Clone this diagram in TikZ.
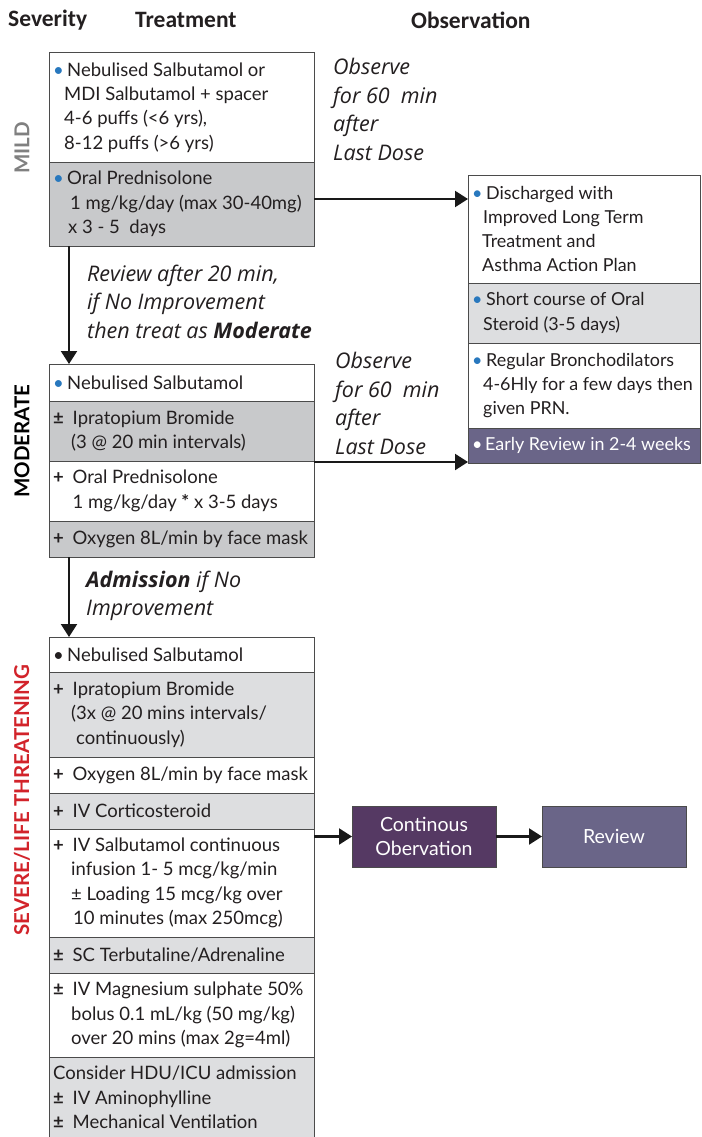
\documentclass[tikz,border=0pt]{standalone}
\usepackage{fontspec}
\setmainfont{Lato}
\newfontfamily\hfont{Carlito}
\newfontfamily\nfont{Open Sans}
\usetikzlibrary{arrows.meta,calc}
\definecolor{bblue}{RGB}{40,120,190}
\definecolor{gA}{RGB}{200,201,203}
\definecolor{gB}{RGB}{221,222,224}
\definecolor{pA}{RGB}{85,57,99}
\definecolor{pB}{RGB}{106,101,136}
\definecolor{sred}{RGB}{210,35,42}
\definecolor{txt}{RGB}{35,31,32}
\definecolor{edge}{RGB}{75,75,75}
\newcommand\bl{\makebox[14pt][l]{\textcolor{bblue}{•}}}
\newcommand\bk{\makebox[14pt][l]{•}}
\newcommand\mk[1]{\makebox[19.5pt][l]{\textbf{#1}}}
\newcommand\bodyfont{\fontsize{18.5}{24.3}\selectfont}
\newcommand\rfont{\fontsize{17.9}{24.3}\selectfont}
\tikzset{
  cell/.style={draw=edge, line width=1pt, anchor=north west, outer sep=0pt, inner sep=0pt},
  lrow/.style={cell, minimum width=265pt, minimum height=#1},
  rrow/.style={cell, minimum width=232pt, minimum height=#1},
  tx/.style={anchor=west, align=left, inner xsep=4pt, inner ysep=0pt, font=\bodyfont, text=txt},
  rtx/.style={tx, font=\rfont},
  note/.style={font=\nfont\itshape\fontsize{21.5}{28.5}\selectfont, align=left,
    anchor=west, inner sep=0pt, text=txt},
  head/.style={font=\hfont\bfseries\fontsize{23.5}{25}\selectfont, text=txt, inner sep=0pt},
  side/.style={font=\bfseries\fontsize{20.5}{22}\selectfont, rotate=90, inner sep=0pt},
  arr/.style={draw=black!90, line width=2.2pt, -{Triangle[length=13pt,width=16pt]}},
  pbox/.style={draw=edge, line width=1pt, text=white, align=center,
    font=\fontsize{19.5}{24}\selectfont,
    minimum width=144pt, minimum height=61pt, anchor=north west, outer sep=0pt}
}
\begin{document}
\begin{tikzpicture}[x=1pt,y=-1pt]
\useasboundingbox[fill=white] (0,0) rectangle (701,1137);
% headers
\node[head, anchor=west] (h1) at (8,20) {Severity};
\node[head, anchor=west] (h2) at (135,20) {Treatment};
\node[head, anchor=west] (h3) at (411,20) {Observation};
% side labels
\node[side, text=black!50] (lm) at (22,148) {MILD};
\node[side, text=black] (lmo) at (22,441) {MODERATE};
\node[side, text=sred] (ls) at (22,800) {SEVERE/LIFE THREATENING};
% mild
\node[lrow=109pt, fill=white] (m1) at (49,53) {};
\node[tx] (m1t) at (m1.west) {\bl Nebulised Salbutamol or\\
\hspace*{11pt}MDI Salbutamol + spacer\\
\hspace*{11pt}4-6 puffs (<6 yrs),\\
\hspace*{11pt}8-12 puffs (>6 yrs)};
\node[lrow=84pt, fill=gA] (m2) at (m1.south west) {};
\node[tx] (m2t) at (m2.west) {\bl Oral Prednisolone\\
\hspace*{17pt}1 mg/kg/day (max 30-40mg)\\
\hspace*{15pt}x 3 - 5\ \ days};
% observe mild
\node[note] (o1) at (333,109.5) {Observe\\ for 60\ \ min\\ after\\ Last Dose};
% right box
\node[rrow=108pt, fill=white] (r1) at (468,175) {};
\node[rtx] (r1t) at (r1.west) {\bl Discharged with\\
\hspace*{11pt}Improved Long Term\\
\hspace*{10pt}Treatment and\\
\hspace*{10pt}Asthma Action Plan};
\node[rrow=60pt, fill=gB] (r2) at (r1.south west) {};
\node[rtx] (r2t) at (r2.west) {\bl Short course of Oral\\
\hspace*{11pt}Steroid (3-5 days)};
\node[rrow=85pt, fill=white] (r3) at (r2.south west) {};
\node[rtx] (r3t) at (r3.west) {\bl Regular Bronchodilators\\
\hspace*{11pt}4-6Hly for a few days then\\
\hspace*{11pt}given PRN.};
\node[rrow=35pt, fill=pB] (r4) at (r3.south west) {};
\node[rtx, text=white] (r4t) at (r4.west) {\makebox[13pt][l]{•}Early Review in 2-4 weeks};
% review note
\node[note] (n1) at (87,301.5) {Review after 20 min,\\ if No Improvement\\ then treat as \textbf{Moderate}};
% moderate
\node[lrow=37pt, fill=white] (d1) at (49,364) {};
\node[tx] (d1t) at (d1.west) {\bl Nebulised Salbutamol};
\node[lrow=60pt, fill=gA] (d2) at (d1.south west) {};
\node[tx] (d2t) at (d2.west) {\mk{±}Ipratopium Bromide\\
\hspace*{18pt}(3 @ 20 min intervals)};
\node[lrow=60pt, fill=white] (d3) at (d2.south west) {};
\node[tx] (d3t) at (d3.west) {\mk{+}Oral Prednisolone\\
\hspace*{19.5pt}1 mg/kg/day \textbf{*} x 3-5 days};
\node[lrow=36pt, fill=gA] (d4) at (d3.south west) {};
\node[tx] (d4t) at (d4.west) {\mk{+}Oxygen 8L/min by face mask};
\node[note] (o2) at (335,403.5) {Observe\\ for 60\ \ min\\ after\\ Last Dose};
% admission note
\node[note] (n2) at (86,596) {\textbf{Admission} if No\\ Improvement};
% severe
\node[lrow=35pt, fill=white] (s1) at (49,637) {};
\node[tx] (s1t) at (s1.west) {\bk Nebulised Salbutamol};
\node[lrow=85pt, fill=gB] (s2) at (s1.south west) {};
\node[tx] (s2t) at (s2.west) {\mk{+}Ipratopium Bromide\\
\hspace*{18pt}(3x @ 20 mins intervals/\\
\hspace*{23pt}continuously)};
\node[lrow=36pt, fill=white] (s3) at (s2.south west) {};
\node[tx] (s3t) at (s3.west) {\mk{+}Oxygen 8L/min by face mask};
\node[lrow=36pt, fill=gB] (s4) at (s3.south west) {};
\node[tx] (s4t) at (s4.west) {\mk{+}IV Corticosteroid};
\node[lrow=108pt, fill=white] (s5) at (s4.south west) {};
\node[tx] (s5t) at (s5.west) {\mk{+}IV Salbutamol continuous\\
\hspace*{18pt}infusion 1- 5 mcg/kg/min\\
\hspace*{18pt}± Loading 15 mcg/kg over\\
\hspace*{20pt}10 minutes (max 250mcg)};
\node[lrow=36pt, fill=gB] (s6) at (s5.south west) {};
\node[tx] (s6t) at (s6.west) {\mk{±}SC Terbutaline/Adrenaline};
\node[lrow=84pt, fill=white] (s7) at (s6.south west) {};
\node[tx] (s7t) at (s7.west) {\mk{±}IV Magnesium sulphate 50\%\\
\hspace*{18pt}bolus 0.1 mL/kg (50 mg/kg)\\
\hspace*{18pt}over 20 mins (max 2g=4ml)};
\node[lrow=81pt, fill=gB] (s8) at (s7.south west) {};
\node[tx] (s8t) at (s8.west) {Consider HDU/ICU admission\\
\mk{±}IV Aminophylline\\
\mk{±}Mechanical Ventilation};
% purple boxes
\node[pbox, fill=pA] (co) at (352,806) {Continous\\ Obervation};
\node[pbox, fill=pB] (rv) at (542,806) {Review};
% arrows
\draw[arr] ([yshift=5pt]m2.east) -- ([yshift=5pt]m2.east -| r1.west);
\draw[arr] ($(m2.south west)+(20,0)$) -- ($(d1.north west)+(20,0)$);
\draw[arr] ([yshift=-1pt]d3.north east) -- ([yshift=-1pt]d3.north east -| r4.west);
\draw[arr] ($(d4.south west)+(20,0)$) -- ($(s1.north west)+(20,0)$);
\draw[arr] (s5.east |- co.west) -- (co.west);
\draw[arr] (co.east) -- (rv.west);
\end{tikzpicture}
\end{document}
